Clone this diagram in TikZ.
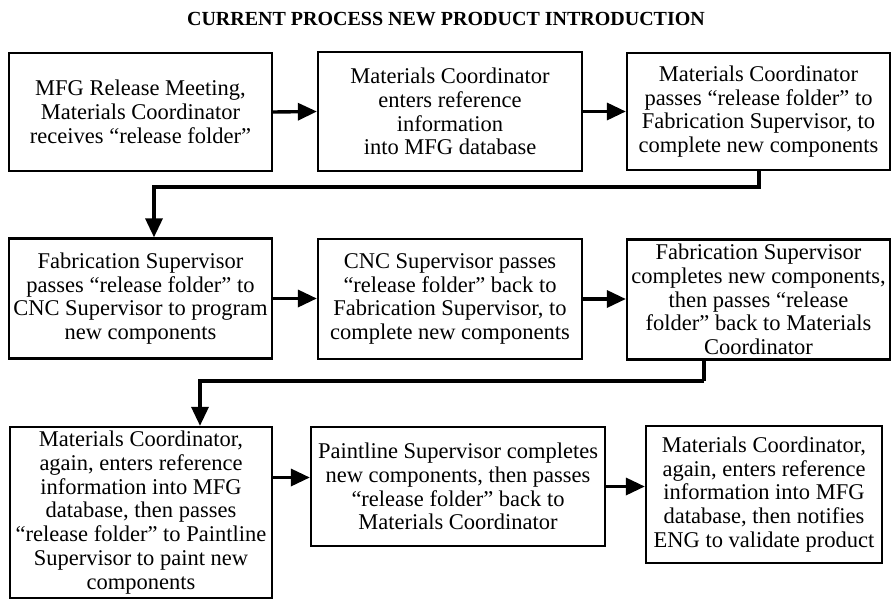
\documentclass[tikz,border=0pt]{standalone}
\usepackage{fontspec}
\setmainfont{Liberation Serif}
\usepackage{tikz}
\usetikzlibrary{arrows.meta,positioning,calc}

\begin{document}
\begin{tikzpicture}[x=1pt,y=-1pt,
  stepbox/.style={draw,line width=2.3pt,inner sep=0pt,align=center,
    font=\fontsize{22.5}{23.8}\selectfont},
  flow/.style={line width=3.4pt,-{Triangle[length=19pt,width=17pt]}},
  joint/.style={line width=3.4pt}]

 \useasboundingbox (0,0) rectangle (892,610);

 % ---- title ----
 \node[font=\fontsize{20}{24}\selectfont\bfseries] (title) at (446,19)
   {CURRENT PROCESS NEW PRODUCT INTRODUCTION};

 % ---- first row ----
 \node[stepbox,minimum width=263,minimum height=118] (meet) at (140.5,112)
   {MFG Release Meeting,\\Materials Coordinator\\receives “release folder”};
 \node[stepbox,minimum width=264,minimum height=119] (enter) at (450,111.5)
   {Materials Coordinator\\enters reference\\information\\into MFG database};
 \node[stepbox,minimum width=263,minimum height=117] (pass) at (758.5,111.5)
   {Materials Coordinator\\passes “release folder” to\\Fabrication Supervisor, to\\complete new components};
 \draw[flow] (meet.east) -- (enter.west);
 \draw[flow] (enter.east) -- (pass.west);

 % ---- second row ----
 \node[stepbox,minimum width=263,minimum height=120] (fab) at (140.5,298.5)
   {Fabrication Supervisor\\passes “release folder” to\\CNC Supervisor to program\\new components};
 \node[stepbox,minimum width=264,minimum height=120] (cnc) at (450,299)
   {CNC Supervisor passes\\“release folder” back to\\Fabrication Supervisor, to\\complete new components};
 \node[stepbox,minimum width=263,minimum height=120] (fabdone) at (758.5,299.5)
   {Fabrication Supervisor\\completes new components,\\then passes “release\\folder” back to Materials\\Coordinator};
 \draw[flow] (fab.east) -- (fab.east -| cnc.west);
 \draw[flow] (cnc.east) -- (cnc.east -| fabdone.west);

 % ---- third row ----
 \node[stepbox,minimum width=262,minimum height=171] (again) at (141,512.5)
   {Materials Coordinator,\\again, enters reference\\information into MFG\\database, then passes\\“release folder” to Paintline\\Supervisor to paint new\\components};
 \node[stepbox,minimum width=294,minimum height=119] (paint) at (458,486.5)
   {Paintline Supervisor completes\\new components, then passes\\“release folder” back to\\Materials Coordinator};
 \node[stepbox,minimum width=236,minimum height=137] (notify) at (764,494.5)
   {Materials Coordinator,\\again, enters reference\\information into MFG\\database, then notifies\\ENG to validate product};
 \draw[flow] ([yshift=9pt]paint.west -| again.east) -- ([yshift=9pt]paint.west);
 \draw[flow] (paint.east) -- (paint.east -| notify.west);

 % ---- row to row ----
 \coordinate (d1) at (154,187);
 \draw[flow] (pass.south -| 759,0) |- (d1) -- (d1 |- fab.north);
 \coordinate (d2) at (200,381);
 \coordinate (u2) at (704,381);
 \draw[joint] (u2 |- fabdone.south) -- (u2);
 \draw[flow] (u2) -- (d2) -- (d2 |- again.north);
\end{tikzpicture}
\end{document}
